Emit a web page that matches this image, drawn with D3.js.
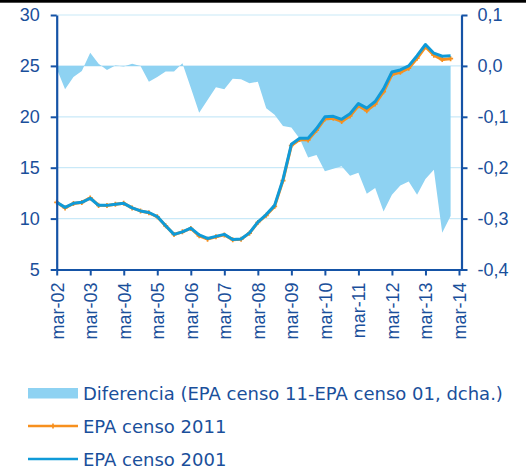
<!DOCTYPE html>
<html>
<head>
<meta charset="utf-8">
<script src="https://cdn.jsdelivr.net/npm/d3@7.9.0/dist/d3.min.js"></script>
<style>
  body { margin: 0; background: #fff; }
  svg { display: block; font-family: "DejaVu Sans", sans-serif; }
  .tick text, .legend text { fill: #1a4f9b; font-size: 18px; }
</style>
</head>
<body>
<svg id="chart" width="526" height="472"></svg>
<script>
// quarters mar-02 .. dic-13
const months = ['mar', 'jun', 'sep', 'dic'];
const years = ['02', '03', '04', '05', '06', '07', '08', '09', '10', '11', '12', '13'];
const quarters = years.flatMap(y => months.map(m => `${m}-${y}`));

const xTickLabels = ['mar-02', 'mar-03', 'mar-04', 'mar-05', 'mar-06', 'mar-07',
    'mar-08', 'mar-09', 'mar-10', 'mar-11', 'mar-12', 'mar-13', 'mar-14'];
const leftTicks = [5, 10, 15, 20, 25, 30];
const rightTicks = [-0.4, -0.3, -0.2, -0.1, 0.0, 0.1];

// EPA censo 2001
const censo2001 = [
    11.6, 11.1, 11.5, 11.6,
    12.0, 11.3, 11.3, 11.4,
    11.5, 11.05, 10.75, 10.6,
    10.2, 9.3, 8.45, 8.7,
    9.07, 8.4, 8.05, 8.25,
    8.45, 7.95, 8.0, 8.6,
    9.65, 10.4, 11.3, 13.85,
    17.3, 17.9, 17.9, 18.85,
    20.0, 20.05, 19.75, 20.3,
    21.3, 20.85, 21.5, 22.75,
    24.4, 24.6, 25.0, 26.0,
    27.1, 26.25, 25.95, 26.0
];

// EPA censo 2011
const censo2011 = [
    11.6, 11.05, 11.48, 11.59,
    12.03, 11.3, 11.29, 11.4,
    11.5, 11.05, 10.75, 10.57,
    10.18, 9.29, 8.44, 8.7,
    9.03, 8.31, 7.98, 8.21,
    8.4, 7.93, 7.97, 8.57,
    9.62, 10.32, 11.2, 13.73,
    17.18, 17.76, 17.72, 18.68,
    19.79, 19.85, 19.55, 20.08,
    21.09, 20.6, 21.26, 22.46,
    24.15, 24.37, 24.77, 25.75,
    26.88, 26.05, 25.62, 25.71
];

// Diferencia (censo 11 - censo 01), right axis
const diferencia = [
    -0.005, -0.046, -0.022, -0.010,
    0.026, 0.004, -0.008, 0.001,
    -0.001, 0.004, 0.000, -0.031,
    -0.022, -0.011, -0.011, 0.005,
    -0.043, -0.092, -0.067, -0.042,
    -0.046, -0.025, -0.026, -0.034,
    -0.031, -0.083, -0.096, -0.118,
    -0.121, -0.143, -0.180, -0.175,
    -0.207, -0.202, -0.197, -0.216,
    -0.210, -0.251, -0.240, -0.286,
    -0.253, -0.235, -0.227, -0.253,
    -0.222, -0.204, -0.328, -0.295
];

const legendLabels = [
    'Diferencia (EPA censo 11-EPA censo 01, dcha.)',
    'EPA censo 2011',
    'EPA censo 2001'
];

const colors = {
    area: '#8ed2f2',
    blue: '#0f9ad8',
    orange: '#f7901e',
    axis: '#1553a6',
    grid: '#c9e9f8'
};

const svg = d3.select('#chart');

const plot = { left: 56.7, right: 461.5, top: 15, bottom: 269.5 };

const x = d3.scaleLinear()
    .domain([0, 48.3])
    .range([plot.left, plot.right]);

const yL = d3.scaleLinear().domain([5, 30]).range([plot.bottom, plot.top]);
const yR = d3.scaleLinear().domain([-0.4, 0.1]).range([plot.bottom, plot.top]);

// top rule
svg.append('rect')
    .attr('x', 0).attr('y', 0)
    .attr('width', 526).attr('height', 2.7)
    .attr('fill', '#000');

// Gridlines
svg.append('g')
    .selectAll('line')
    .data(leftTicks.filter(d => d > 5))
    .join('line')
    .attr('x1', plot.left)
    .attr('x2', x(48.2))
    .attr('y1', d => yL(d))
    .attr('y2', d => yL(d))
    .attr('stroke', colors.grid)
    .attr('stroke-width', 1.2);

// Area (difference, right axis)
const area = d3.area()
    .x((d, i) => x(i))
    .y0(yR(0))
    .y1(d => yR(d));

svg.append('path')
    .datum(diferencia)
    .attr('d', area)
    .attr('fill', colors.area);

// Lines
const line = d3.line()
    .x((d, i) => x(i))
    .y(d => yL(d));

svg.append('path')
    .datum(censo2011)
    .attr('d', line)
    .attr('fill', 'none')
    .attr('stroke', colors.orange)
    .attr('stroke-width', 3)
    .attr('stroke-linejoin', 'round');

svg.append('g')
    .selectAll('path')
    .data(censo2011)
    .join('path')
    .attr('d', d3.symbol(d3.symbolCross, 14))
    .attr('transform', (d, i) => `translate(${x(i)},${yL(d)})`)
    .attr('fill', colors.orange);

svg.append('path')
    .datum(censo2001)
    .attr('d', line)
    .attr('fill', 'none')
    .attr('stroke', colors.blue)
    .attr('stroke-width', 3)
    .attr('stroke-linejoin', 'round');

// Axes
function styleAxis(g) {
    g.selectAll('.domain').attr('stroke', colors.axis).attr('stroke-width', 2.2);
    g.selectAll('.tick line').attr('stroke', colors.axis).attr('stroke-width', 2);
}

svg.append('g')
    .attr('transform', `translate(${plot.left},0)`)
    .call(d3.axisLeft(yL).tickValues(leftTicks).tickSize(6).tickSizeOuter(0).tickPadding(11))
    .call(styleAxis)
    .call(g => g.selectAll('text').attr('font-family', null).attr('font-size', null));

svg.append('g')
    .attr('transform', `translate(${plot.right},0)`)
    .call(d3.axisRight(yR).tickValues(rightTicks).tickSize(6).tickSizeOuter(0).tickPadding(10)
        .tickFormat(d => d3.format('.1f')(d).replace('.', ',').replace('−', '-')))
    .call(styleAxis)
    .call(g => g.selectAll('text').attr('font-family', null).attr('font-size', null));

const xAxis = d3.axisBottom(x)
    .tickValues(xTickLabels.map((d, i) => i * 4))
    .tickFormat((d, i) => xTickLabels[i])
    .tickSize(6)
    .tickSizeOuter(0);

svg.append('g')
    .attr('transform', `translate(0,${plot.bottom})`)
    .call(xAxis)
    .call(styleAxis)
    .call(g => g.selectAll('text')
        .attr('font-family', null).attr('font-size', null)
        .attr('transform', 'rotate(-90)')
        .attr('text-anchor', 'end')
        .attr('x', -13)
        .attr('y', 0)
        .attr('dy', '0.35em'));

// Legend
const legend = svg.append('g').attr('class', 'legend');
const legendY = [393, 426, 459];

legend.append('rect')
    .attr('x', 28).attr('y', legendY[0] - 5)
    .attr('width', 50).attr('height', 10.5)
    .attr('fill', colors.area);

legend.append('line')
    .attr('x1', 28).attr('x2', 78)
    .attr('y1', legendY[1]).attr('y2', legendY[1])
    .attr('stroke', colors.orange).attr('stroke-width', 2.5);

legend.append('path')
    .attr('d', d3.symbol(d3.symbolCross, 14))
    .attr('transform', `translate(53,${legendY[1]})`)
    .attr('fill', colors.orange);

legend.append('line')
    .attr('x1', 28).attr('x2', 78)
    .attr('y1', legendY[2]).attr('y2', legendY[2])
    .attr('stroke', colors.blue).attr('stroke-width', 2.5);

legend.selectAll('text')
    .data(legendLabels)
    .join('text')
    .attr('x', 83)
    .attr('y', (d, i) => legendY[i])
    .attr('dy', '0.37em')
    .text(d => d);
</script>
</body>
</html>
